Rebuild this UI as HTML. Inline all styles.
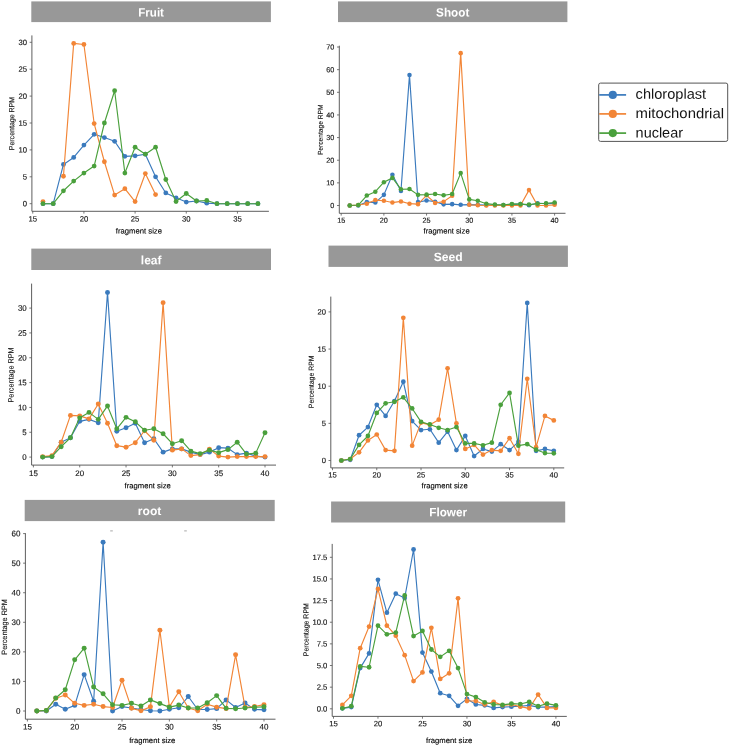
<!DOCTYPE html>
<html><head><meta charset="utf-8"><title>fragment size distribution</title>
<style>html,body{margin:0;padding:0;background:#fff}body{width:729px;height:746px;position:relative;overflow:hidden;font-family:"Liberation Sans",sans-serif}</style>
</head><body>
<svg width="729" height="746" viewBox="0 0 729 746" style="will-change:transform;filter:blur(0.3px);display:block;position:absolute;left:0;top:0;font-family:'Liberation Sans',sans-serif">
<rect x="0" y="0" width="729" height="746" fill="#fff"/>
<rect x="31.3" y="1.4" width="239.6" height="20.7" fill="#989898"/>
<text x="151.1" y="16.5" transform="rotate(0.03 151.1 16.5)" text-anchor="middle" font-size="12" font-weight="bold" fill="#fff" textLength="25.7" lengthAdjust="spacingAndGlyphs">Fruit</text>
<polyline fill="none" stroke="#3a7abd" stroke-width="1.15" stroke-linejoin="round" points="42.98,203.7 53.22,203.7 63.45,164.43 73.69,157.43 83.92,145.06 94.16,134.3 104.39,137.53 114.63,141.29 124.86,156.36 135.1,155.82 145.33,154.2 155.57,176.8 165.81,192.94 176.04,197.78 186.27,202.09 196.51,201.01 206.75,203.16 216.98,203.7 227.21,203.7 237.45,203.7 247.69,203.7 257.92,203.7"/>
<g fill="#3a7abd"><circle cx="42.98" cy="203.7" r="2.4"/><circle cx="53.22" cy="203.7" r="2.4"/><circle cx="63.45" cy="164.43" r="2.4"/><circle cx="73.69" cy="157.43" r="2.4"/><circle cx="83.92" cy="145.06" r="2.4"/><circle cx="94.16" cy="134.3" r="2.4"/><circle cx="104.39" cy="137.53" r="2.4"/><circle cx="114.63" cy="141.29" r="2.4"/><circle cx="124.86" cy="156.36" r="2.4"/><circle cx="135.1" cy="155.82" r="2.4"/><circle cx="145.33" cy="154.2" r="2.4"/><circle cx="155.57" cy="176.8" r="2.4"/><circle cx="165.81" cy="192.94" r="2.4"/><circle cx="176.04" cy="197.78" r="2.4"/><circle cx="186.27" cy="202.09" r="2.4"/><circle cx="196.51" cy="201.01" r="2.4"/><circle cx="206.75" cy="203.16" r="2.4"/><circle cx="216.98" cy="203.7" r="2.4"/><circle cx="227.21" cy="203.7" r="2.4"/><circle cx="237.45" cy="203.7" r="2.4"/><circle cx="247.69" cy="203.7" r="2.4"/><circle cx="257.92" cy="203.7" r="2.4"/></g>
<polyline fill="none" stroke="#f28536" stroke-width="1.15" stroke-linejoin="round" points="63.45,176.26 73.69,43.38 83.92,44.45 94.16,123.54 104.39,161.74 114.63,195.09 124.86,188.64 135.1,201.55 145.33,173.57 155.57,194.55"/>
<g fill="#f28536"><circle cx="42.98" cy="201.55" r="2.4"/><circle cx="63.45" cy="176.26" r="2.4"/><circle cx="73.69" cy="43.38" r="2.4"/><circle cx="83.92" cy="44.45" r="2.4"/><circle cx="94.16" cy="123.54" r="2.4"/><circle cx="104.39" cy="161.74" r="2.4"/><circle cx="114.63" cy="195.09" r="2.4"/><circle cx="124.86" cy="188.64" r="2.4"/><circle cx="135.1" cy="201.55" r="2.4"/><circle cx="145.33" cy="173.57" r="2.4"/><circle cx="155.57" cy="194.55" r="2.4"/></g>
<polyline fill="none" stroke="#4aa03c" stroke-width="1.15" stroke-linejoin="round" points="42.98,203.7 53.22,203.7 63.45,190.79 73.69,181.1 83.92,173.03 94.16,166.04 104.39,123 114.63,90.72 124.86,173.03 135.1,147.21 145.33,154.2 155.57,147.21 165.81,179.49 176.04,201.55 186.27,193.48 196.51,201.01 206.75,200.47 216.98,203.7 227.21,203.7 237.45,203.7 247.69,203.7 257.92,203.7"/>
<g fill="#4aa03c"><circle cx="42.98" cy="203.7" r="2.4"/><circle cx="53.22" cy="203.7" r="2.4"/><circle cx="63.45" cy="190.79" r="2.4"/><circle cx="73.69" cy="181.1" r="2.4"/><circle cx="83.92" cy="173.03" r="2.4"/><circle cx="94.16" cy="166.04" r="2.4"/><circle cx="104.39" cy="123" r="2.4"/><circle cx="114.63" cy="90.72" r="2.4"/><circle cx="124.86" cy="173.03" r="2.4"/><circle cx="135.1" cy="147.21" r="2.4"/><circle cx="145.33" cy="154.2" r="2.4"/><circle cx="155.57" cy="147.21" r="2.4"/><circle cx="165.81" cy="179.49" r="2.4"/><circle cx="176.04" cy="201.55" r="2.4"/><circle cx="186.27" cy="193.48" r="2.4"/><circle cx="196.51" cy="201.01" r="2.4"/><circle cx="206.75" cy="200.47" r="2.4"/><circle cx="216.98" cy="203.7" r="2.4"/><circle cx="227.21" cy="203.7" r="2.4"/><circle cx="237.45" cy="203.7" r="2.4"/><circle cx="247.69" cy="203.7" r="2.4"/><circle cx="257.92" cy="203.7" r="2.4"/></g>
<path d="M31.9 35.4V211.3H268.9" fill="none" stroke="#555" stroke-width="0.95"/>
<path d="M29.6 203.7H31.9M29.6 176.8H31.9M29.6 149.9H31.9M29.6 123H31.9M29.6 96.1H31.9M29.6 69.2H31.9M29.6 42.3H31.9M32.75 211.3V213.6M83.92 211.3V213.6M135.1 211.3V213.6M186.27 211.3V213.6M237.45 211.3V213.6" stroke="#555" stroke-width="0.8" fill="none"/>
<g font-size="7.7" fill="#141414" stroke="#141414" stroke-width="0.14">
<text x="27" y="206.35" transform="rotate(0.03 27 206.35)" text-anchor="end">0</text>
<text x="27" y="179.45" transform="rotate(0.03 27 179.45)" text-anchor="end">5</text>
<text x="27" y="152.55" transform="rotate(0.03 27 152.55)" text-anchor="end">10</text>
<text x="27" y="125.65" transform="rotate(0.03 27 125.65)" text-anchor="end">15</text>
<text x="27" y="98.75" transform="rotate(0.03 27 98.75)" text-anchor="end">20</text>
<text x="27" y="71.85" transform="rotate(0.03 27 71.85)" text-anchor="end">25</text>
<text x="27" y="44.95" transform="rotate(0.03 27 44.95)" text-anchor="end">30</text>
<text x="32.75" y="221.5" transform="rotate(0.03 32.75 221.5)" text-anchor="middle">15</text>
<text x="83.92" y="221.5" transform="rotate(0.03 83.92 221.5)" text-anchor="middle">20</text>
<text x="135.1" y="221.5" transform="rotate(0.03 135.1 221.5)" text-anchor="middle">25</text>
<text x="186.27" y="221.5" transform="rotate(0.03 186.27 221.5)" text-anchor="middle">30</text>
<text x="237.45" y="221.5" transform="rotate(0.03 237.45 221.5)" text-anchor="middle">35</text>
</g>
<text x="138.9" y="233.4" transform="rotate(0.03 138.9 233.4)" text-anchor="middle" font-size="7.7" fill="#000" stroke="#000" stroke-width="0.12">fragment size</text>
<text transform="translate(14.2 123.6) rotate(-90.03)" text-anchor="middle" font-size="7.4" fill="#141414" stroke="#141414" stroke-width="0.12" textLength="53.4" lengthAdjust="spacingAndGlyphs">Percentage RPM</text>
<rect x="338" y="1.4" width="229.4" height="20.7" fill="#989898"/>
<text x="452.7" y="16.5" transform="rotate(0.03 452.7 16.5)" text-anchor="middle" font-size="12" font-weight="bold" fill="#fff" textLength="33.2" lengthAdjust="spacingAndGlyphs">Shoot</text>
<polyline fill="none" stroke="#3a7abd" stroke-width="1.15" stroke-linejoin="round" points="349.74,205.5 358.27,205.5 366.81,202.1 375.34,202.56 383.88,194.86 392.42,174.71 400.95,191.01 409.49,75.09 418.02,202.1 426.56,200.52 435.1,201.65 443.63,204.37 452.17,204.14 460.7,204.82 469.24,204.59 477.78,204.82 486.31,205.05 494.85,205.05 503.38,205.05 511.92,204.59 520.46,203.92 528.99,205.27 537.53,203.24 546.06,203.69 554.6,203.46"/>
<g fill="#3a7abd"><circle cx="349.74" cy="205.5" r="2.27"/><circle cx="358.27" cy="205.5" r="2.27"/><circle cx="366.81" cy="202.1" r="2.27"/><circle cx="375.34" cy="202.56" r="2.27"/><circle cx="383.88" cy="194.86" r="2.27"/><circle cx="392.42" cy="174.71" r="2.27"/><circle cx="400.95" cy="191.01" r="2.27"/><circle cx="409.49" cy="75.09" r="2.27"/><circle cx="418.02" cy="202.1" r="2.27"/><circle cx="426.56" cy="200.52" r="2.27"/><circle cx="435.1" cy="201.65" r="2.27"/><circle cx="443.63" cy="204.37" r="2.27"/><circle cx="452.17" cy="204.14" r="2.27"/><circle cx="460.7" cy="204.82" r="2.27"/><circle cx="469.24" cy="204.59" r="2.27"/><circle cx="477.78" cy="204.82" r="2.27"/><circle cx="486.31" cy="205.05" r="2.27"/><circle cx="494.85" cy="205.05" r="2.27"/><circle cx="503.38" cy="205.05" r="2.27"/><circle cx="511.92" cy="204.59" r="2.27"/><circle cx="520.46" cy="203.92" r="2.27"/><circle cx="528.99" cy="205.27" r="2.27"/><circle cx="537.53" cy="203.24" r="2.27"/><circle cx="546.06" cy="203.69" r="2.27"/><circle cx="554.6" cy="203.46" r="2.27"/></g>
<polyline fill="none" stroke="#f28536" stroke-width="1.15" stroke-linejoin="round" points="349.74,205.5 358.27,205.05 366.81,203.69 375.34,200.07 383.88,200.75 392.42,202.56 400.95,201.42 409.49,203.69 418.02,204.14 426.56,195.31 435.1,203.01 443.63,201.65 452.17,195.76 460.7,53.13 469.24,204.82 477.78,205.27 486.31,205.5 494.85,205.5 503.38,205.5 511.92,205.5 520.46,205.5 528.99,190.1 537.53,205.5 546.06,205.5 554.6,204.82"/>
<g fill="#f28536"><circle cx="349.74" cy="205.5" r="2.27"/><circle cx="358.27" cy="205.05" r="2.27"/><circle cx="366.81" cy="203.69" r="2.27"/><circle cx="375.34" cy="200.07" r="2.27"/><circle cx="383.88" cy="200.75" r="2.27"/><circle cx="392.42" cy="202.56" r="2.27"/><circle cx="400.95" cy="201.42" r="2.27"/><circle cx="409.49" cy="203.69" r="2.27"/><circle cx="418.02" cy="204.14" r="2.27"/><circle cx="426.56" cy="195.31" r="2.27"/><circle cx="435.1" cy="203.01" r="2.27"/><circle cx="443.63" cy="201.65" r="2.27"/><circle cx="452.17" cy="195.76" r="2.27"/><circle cx="460.7" cy="53.13" r="2.27"/><circle cx="469.24" cy="204.82" r="2.27"/><circle cx="477.78" cy="205.27" r="2.27"/><circle cx="486.31" cy="205.5" r="2.27"/><circle cx="494.85" cy="205.5" r="2.27"/><circle cx="503.38" cy="205.5" r="2.27"/><circle cx="511.92" cy="205.5" r="2.27"/><circle cx="520.46" cy="205.5" r="2.27"/><circle cx="528.99" cy="190.1" r="2.27"/><circle cx="537.53" cy="205.5" r="2.27"/><circle cx="546.06" cy="205.5" r="2.27"/><circle cx="554.6" cy="204.82" r="2.27"/></g>
<polyline fill="none" stroke="#4aa03c" stroke-width="1.15" stroke-linejoin="round" points="349.74,205.5 358.27,205.05 366.81,195.54 375.34,191.69 383.88,182.18 392.42,177.88 400.95,189.2 409.49,188.97 418.02,194.86 426.56,194.63 435.1,193.95 443.63,195.31 452.17,193.95 460.7,173.12 469.24,199.39 477.78,200.75 486.31,203.69 494.85,204.59 503.38,205.05 511.92,203.92 520.46,204.14 528.99,204.59 537.53,203.69 546.06,203.24 554.6,202.56"/>
<g fill="#4aa03c"><circle cx="349.74" cy="205.5" r="2.27"/><circle cx="358.27" cy="205.05" r="2.27"/><circle cx="366.81" cy="195.54" r="2.27"/><circle cx="375.34" cy="191.69" r="2.27"/><circle cx="383.88" cy="182.18" r="2.27"/><circle cx="392.42" cy="177.88" r="2.27"/><circle cx="400.95" cy="189.2" r="2.27"/><circle cx="409.49" cy="188.97" r="2.27"/><circle cx="418.02" cy="194.86" r="2.27"/><circle cx="426.56" cy="194.63" r="2.27"/><circle cx="435.1" cy="193.95" r="2.27"/><circle cx="443.63" cy="195.31" r="2.27"/><circle cx="452.17" cy="193.95" r="2.27"/><circle cx="460.7" cy="173.12" r="2.27"/><circle cx="469.24" cy="199.39" r="2.27"/><circle cx="477.78" cy="200.75" r="2.27"/><circle cx="486.31" cy="203.69" r="2.27"/><circle cx="494.85" cy="204.59" r="2.27"/><circle cx="503.38" cy="205.05" r="2.27"/><circle cx="511.92" cy="203.92" r="2.27"/><circle cx="520.46" cy="204.14" r="2.27"/><circle cx="528.99" cy="204.59" r="2.27"/><circle cx="537.53" cy="203.69" r="2.27"/><circle cx="546.06" cy="203.24" r="2.27"/><circle cx="554.6" cy="202.56" r="2.27"/></g>
<path d="M339.3 45.7V213.3H565.5" fill="none" stroke="#555" stroke-width="0.95"/>
<path d="M337 205.5H339.3M337 182.86H339.3M337 160.22H339.3M337 137.58H339.3M337 114.94H339.3M337 92.3H339.3M337 69.66H339.3M337 47.02H339.3M341.2 213.3V215.6M383.88 213.3V215.6M426.56 213.3V215.6M469.24 213.3V215.6M511.92 213.3V215.6M554.6 213.3V215.6" stroke="#555" stroke-width="0.8" fill="none"/>
<g font-size="7.28" fill="#141414" stroke="#141414" stroke-width="0.14">
<text x="334.4" y="208.01" transform="rotate(0.03 334.4 208.01)" text-anchor="end">0</text>
<text x="334.4" y="185.37" transform="rotate(0.03 334.4 185.37)" text-anchor="end">10</text>
<text x="334.4" y="162.73" transform="rotate(0.03 334.4 162.73)" text-anchor="end">20</text>
<text x="334.4" y="140.09" transform="rotate(0.03 334.4 140.09)" text-anchor="end">30</text>
<text x="334.4" y="117.45" transform="rotate(0.03 334.4 117.45)" text-anchor="end">40</text>
<text x="334.4" y="94.81" transform="rotate(0.03 334.4 94.81)" text-anchor="end">50</text>
<text x="334.4" y="72.17" transform="rotate(0.03 334.4 72.17)" text-anchor="end">60</text>
<text x="334.4" y="49.53" transform="rotate(0.03 334.4 49.53)" text-anchor="end">70</text>
<text x="341.2" y="222.8" transform="rotate(0.03 341.2 222.8)" text-anchor="middle">15</text>
<text x="383.88" y="222.8" transform="rotate(0.03 383.88 222.8)" text-anchor="middle">20</text>
<text x="426.56" y="222.8" transform="rotate(0.03 426.56 222.8)" text-anchor="middle">25</text>
<text x="469.24" y="222.8" transform="rotate(0.03 469.24 222.8)" text-anchor="middle">30</text>
<text x="511.92" y="222.8" transform="rotate(0.03 511.92 222.8)" text-anchor="middle">35</text>
<text x="554.6" y="222.8" transform="rotate(0.03 554.6 222.8)" text-anchor="middle">40</text>
</g>
<text x="446.6" y="233.4" transform="rotate(0.03 446.6 233.4)" text-anchor="middle" font-size="7.7" fill="#000" stroke="#000" stroke-width="0.12">fragment size</text>
<text transform="translate(322.7 129.8) rotate(-90.03)" text-anchor="middle" font-size="7" fill="#141414" stroke="#141414" stroke-width="0.12" textLength="50.5" lengthAdjust="spacingAndGlyphs">Percentage RPM</text>
<rect x="31.3" y="248.6" width="239.7" height="21.4" fill="#989898"/>
<text x="151.2" y="264.3" transform="rotate(0.03 151.2 264.3)" text-anchor="middle" font-size="12" font-weight="bold" fill="#fff" textLength="20.8" lengthAdjust="spacingAndGlyphs">leaf</text>
<polyline fill="none" stroke="#3a7abd" stroke-width="1.15" stroke-linejoin="round" points="42.66,457.1 51.93,456.6 61.19,442.2 70.46,437.73 79.72,421.34 88.98,419.35 98.25,422.83 107.51,292.44 116.78,431.27 126.04,427.79 135.3,423.32 144.57,442.7 153.83,438.72 163.1,452.13 172.36,448.9 181.62,448.9 190.89,452.13 200.15,454.62 209.42,452.13 218.68,447.66 227.94,448.16 237.21,454.62 246.47,453.13 255.74,456.11 265,457.1"/>
<g fill="#3a7abd"><circle cx="42.66" cy="457.1" r="2.47"/><circle cx="51.93" cy="456.6" r="2.47"/><circle cx="61.19" cy="442.2" r="2.47"/><circle cx="70.46" cy="437.73" r="2.47"/><circle cx="79.72" cy="421.34" r="2.47"/><circle cx="88.98" cy="419.35" r="2.47"/><circle cx="98.25" cy="422.83" r="2.47"/><circle cx="107.51" cy="292.44" r="2.47"/><circle cx="116.78" cy="431.27" r="2.47"/><circle cx="126.04" cy="427.79" r="2.47"/><circle cx="135.3" cy="423.32" r="2.47"/><circle cx="144.57" cy="442.7" r="2.47"/><circle cx="153.83" cy="438.72" r="2.47"/><circle cx="163.1" cy="452.13" r="2.47"/><circle cx="172.36" cy="448.9" r="2.47"/><circle cx="181.62" cy="448.9" r="2.47"/><circle cx="190.89" cy="452.13" r="2.47"/><circle cx="200.15" cy="454.62" r="2.47"/><circle cx="209.42" cy="452.13" r="2.47"/><circle cx="218.68" cy="447.66" r="2.47"/><circle cx="227.94" cy="448.16" r="2.47"/><circle cx="237.21" cy="454.62" r="2.47"/><circle cx="246.47" cy="453.13" r="2.47"/><circle cx="255.74" cy="456.11" r="2.47"/><circle cx="265" cy="457.1" r="2.47"/></g>
<polyline fill="none" stroke="#f28536" stroke-width="1.15" stroke-linejoin="round" points="42.66,456.6 51.93,455.61 61.19,442.2 70.46,415.38 79.72,415.87 88.98,418.85 98.25,403.95 107.51,423.32 116.78,445.68 126.04,447.17 135.3,442.7 144.57,430.77 153.83,440.21 163.1,302.63 172.36,450.15 181.62,448.9 190.89,455.61 200.15,454.62 209.42,449.15 218.68,456.11 227.94,457.1 237.21,456.6 246.47,456.6 255.74,456.6 265,456.6"/>
<g fill="#f28536"><circle cx="42.66" cy="456.6" r="2.47"/><circle cx="51.93" cy="455.61" r="2.47"/><circle cx="61.19" cy="442.2" r="2.47"/><circle cx="70.46" cy="415.38" r="2.47"/><circle cx="79.72" cy="415.87" r="2.47"/><circle cx="88.98" cy="418.85" r="2.47"/><circle cx="98.25" cy="403.95" r="2.47"/><circle cx="107.51" cy="423.32" r="2.47"/><circle cx="116.78" cy="445.68" r="2.47"/><circle cx="126.04" cy="447.17" r="2.47"/><circle cx="135.3" cy="442.7" r="2.47"/><circle cx="144.57" cy="430.77" r="2.47"/><circle cx="153.83" cy="440.21" r="2.47"/><circle cx="163.1" cy="302.63" r="2.47"/><circle cx="172.36" cy="450.15" r="2.47"/><circle cx="181.62" cy="448.9" r="2.47"/><circle cx="190.89" cy="455.61" r="2.47"/><circle cx="200.15" cy="454.62" r="2.47"/><circle cx="209.42" cy="449.15" r="2.47"/><circle cx="218.68" cy="456.11" r="2.47"/><circle cx="227.94" cy="457.1" r="2.47"/><circle cx="237.21" cy="456.6" r="2.47"/><circle cx="246.47" cy="456.6" r="2.47"/><circle cx="255.74" cy="456.6" r="2.47"/><circle cx="265" cy="456.6" r="2.47"/></g>
<polyline fill="none" stroke="#4aa03c" stroke-width="1.15" stroke-linejoin="round" points="42.66,457.1 51.93,456.6 61.19,446.67 70.46,437.73 79.72,417.86 88.98,412.4 98.25,419.35 107.51,405.94 116.78,428.79 126.04,417.36 135.3,421.83 144.57,430.28 153.83,428.79 163.1,433.76 172.36,443.69 181.62,440.71 190.89,451.14 200.15,453.62 209.42,450.15 218.68,452.63 227.94,449.65 237.21,442.2 246.47,454.12 255.74,453.13 265,432.76"/>
<g fill="#4aa03c"><circle cx="42.66" cy="457.1" r="2.47"/><circle cx="51.93" cy="456.6" r="2.47"/><circle cx="61.19" cy="446.67" r="2.47"/><circle cx="70.46" cy="437.73" r="2.47"/><circle cx="79.72" cy="417.86" r="2.47"/><circle cx="88.98" cy="412.4" r="2.47"/><circle cx="98.25" cy="419.35" r="2.47"/><circle cx="107.51" cy="405.94" r="2.47"/><circle cx="116.78" cy="428.79" r="2.47"/><circle cx="126.04" cy="417.36" r="2.47"/><circle cx="135.3" cy="421.83" r="2.47"/><circle cx="144.57" cy="430.28" r="2.47"/><circle cx="153.83" cy="428.79" r="2.47"/><circle cx="163.1" cy="433.76" r="2.47"/><circle cx="172.36" cy="443.69" r="2.47"/><circle cx="181.62" cy="440.71" r="2.47"/><circle cx="190.89" cy="451.14" r="2.47"/><circle cx="200.15" cy="453.62" r="2.47"/><circle cx="209.42" cy="450.15" r="2.47"/><circle cx="218.68" cy="452.63" r="2.47"/><circle cx="227.94" cy="449.65" r="2.47"/><circle cx="237.21" cy="442.2" r="2.47"/><circle cx="246.47" cy="454.12" r="2.47"/><circle cx="255.74" cy="453.13" r="2.47"/><circle cx="265" cy="432.76" r="2.47"/></g>
<path d="M31.6 283.6V465.1H276" fill="none" stroke="#555" stroke-width="0.95"/>
<path d="M29.3 457.1H31.6M29.3 432.27H31.6M29.3 407.43H31.6M29.3 382.6H31.6M29.3 357.76H31.6M29.3 332.93H31.6M29.3 308.09H31.6M33.4 465.1V467.4M79.72 465.1V467.4M126.04 465.1V467.4M172.36 465.1V467.4M218.68 465.1V467.4M265 465.1V467.4" stroke="#555" stroke-width="0.8" fill="none"/>
<g font-size="7.92" fill="#141414" stroke="#141414" stroke-width="0.14">
<text x="26.7" y="459.82" transform="rotate(0.03 26.7 459.82)" text-anchor="end">0</text>
<text x="26.7" y="434.99" transform="rotate(0.03 26.7 434.99)" text-anchor="end">5</text>
<text x="26.7" y="410.15" transform="rotate(0.03 26.7 410.15)" text-anchor="end">10</text>
<text x="26.7" y="385.32" transform="rotate(0.03 26.7 385.32)" text-anchor="end">15</text>
<text x="26.7" y="360.48" transform="rotate(0.03 26.7 360.48)" text-anchor="end">20</text>
<text x="26.7" y="335.65" transform="rotate(0.03 26.7 335.65)" text-anchor="end">25</text>
<text x="26.7" y="310.81" transform="rotate(0.03 26.7 310.81)" text-anchor="end">30</text>
<text x="33.4" y="475.9" transform="rotate(0.03 33.4 475.9)" text-anchor="middle">15</text>
<text x="79.72" y="475.9" transform="rotate(0.03 79.72 475.9)" text-anchor="middle">20</text>
<text x="126.04" y="475.9" transform="rotate(0.03 126.04 475.9)" text-anchor="middle">25</text>
<text x="172.36" y="475.9" transform="rotate(0.03 172.36 475.9)" text-anchor="middle">30</text>
<text x="218.68" y="475.9" transform="rotate(0.03 218.68 475.9)" text-anchor="middle">35</text>
<text x="265" y="475.9" transform="rotate(0.03 265 475.9)" text-anchor="middle">40</text>
</g>
<text x="147.7" y="488.3" transform="rotate(0.03 147.7 488.3)" text-anchor="middle" font-size="7.7" fill="#000" stroke="#000" stroke-width="0.12">fragment size</text>
<text transform="translate(13.6 375) rotate(-90.03)" text-anchor="middle" font-size="7.61" fill="#141414" stroke="#141414" stroke-width="0.12" textLength="54.9" lengthAdjust="spacingAndGlyphs">Percentage RPM</text>
<rect x="328.5" y="245.6" width="239.4" height="21.3" fill="#989898"/>
<text x="448.2" y="261" transform="rotate(0.03 448.2 261)" text-anchor="middle" font-size="12" font-weight="bold" fill="#fff" textLength="29.0" lengthAdjust="spacingAndGlyphs">Seed</text>
<polyline fill="none" stroke="#3a7abd" stroke-width="1.15" stroke-linejoin="round" points="341.35,460.5 350.2,459.76 359.06,435.24 367.91,427.06 376.76,404.77 385.61,415.92 394.46,401.06 403.32,381.74 412.17,421.12 421.02,430.04 429.87,429.29 438.72,442.67 447.58,431.52 456.43,450.1 465.28,435.98 474.13,456.04 482.98,448.98 491.84,451.58 500.69,444.15 509.54,450.1 518.39,441.93 527.24,302.98 536.1,450.84 544.95,448.98 553.8,450.84"/>
<g fill="#3a7abd"><circle cx="341.35" cy="460.5" r="2.37"/><circle cx="350.2" cy="459.76" r="2.37"/><circle cx="359.06" cy="435.24" r="2.37"/><circle cx="367.91" cy="427.06" r="2.37"/><circle cx="376.76" cy="404.77" r="2.37"/><circle cx="385.61" cy="415.92" r="2.37"/><circle cx="394.46" cy="401.06" r="2.37"/><circle cx="403.32" cy="381.74" r="2.37"/><circle cx="412.17" cy="421.12" r="2.37"/><circle cx="421.02" cy="430.04" r="2.37"/><circle cx="429.87" cy="429.29" r="2.37"/><circle cx="438.72" cy="442.67" r="2.37"/><circle cx="447.58" cy="431.52" r="2.37"/><circle cx="456.43" cy="450.1" r="2.37"/><circle cx="465.28" cy="435.98" r="2.37"/><circle cx="474.13" cy="456.04" r="2.37"/><circle cx="482.98" cy="448.98" r="2.37"/><circle cx="491.84" cy="451.58" r="2.37"/><circle cx="500.69" cy="444.15" r="2.37"/><circle cx="509.54" cy="450.1" r="2.37"/><circle cx="518.39" cy="441.93" r="2.37"/><circle cx="527.24" cy="302.98" r="2.37"/><circle cx="536.1" cy="450.84" r="2.37"/><circle cx="544.95" cy="448.98" r="2.37"/><circle cx="553.8" cy="450.84" r="2.37"/></g>
<polyline fill="none" stroke="#f28536" stroke-width="1.15" stroke-linejoin="round" points="341.35,460.5 350.2,459.01 359.06,452.33 367.91,440.44 376.76,434.5 385.61,450.1 394.46,450.84 403.32,317.84 412.17,445.64 421.02,422.61 429.87,424.84 438.72,419.63 447.58,368.37 456.43,423.35 465.28,448.98 474.13,444.9 482.98,454.56 491.84,450.1 500.69,450.84 509.54,438.21 518.39,453.81 527.24,378.77 536.1,447.13 544.95,415.92 553.8,420.38"/>
<g fill="#f28536"><circle cx="341.35" cy="460.5" r="2.37"/><circle cx="350.2" cy="459.01" r="2.37"/><circle cx="359.06" cy="452.33" r="2.37"/><circle cx="367.91" cy="440.44" r="2.37"/><circle cx="376.76" cy="434.5" r="2.37"/><circle cx="385.61" cy="450.1" r="2.37"/><circle cx="394.46" cy="450.84" r="2.37"/><circle cx="403.32" cy="317.84" r="2.37"/><circle cx="412.17" cy="445.64" r="2.37"/><circle cx="421.02" cy="422.61" r="2.37"/><circle cx="429.87" cy="424.84" r="2.37"/><circle cx="438.72" cy="419.63" r="2.37"/><circle cx="447.58" cy="368.37" r="2.37"/><circle cx="456.43" cy="423.35" r="2.37"/><circle cx="465.28" cy="448.98" r="2.37"/><circle cx="474.13" cy="444.9" r="2.37"/><circle cx="482.98" cy="454.56" r="2.37"/><circle cx="491.84" cy="450.1" r="2.37"/><circle cx="500.69" cy="450.84" r="2.37"/><circle cx="509.54" cy="438.21" r="2.37"/><circle cx="518.39" cy="453.81" r="2.37"/><circle cx="527.24" cy="378.77" r="2.37"/><circle cx="536.1" cy="447.13" r="2.37"/><circle cx="544.95" cy="415.92" r="2.37"/><circle cx="553.8" cy="420.38" r="2.37"/></g>
<polyline fill="none" stroke="#4aa03c" stroke-width="1.15" stroke-linejoin="round" points="341.35,460.5 350.2,459.01 359.06,444.9 367.91,435.98 376.76,412.95 385.61,403.29 394.46,401.8 403.32,397.35 412.17,408.49 421.02,421.86 429.87,424.46 438.72,427.81 447.58,430.04 456.43,427.06 465.28,443.41 474.13,443.41 482.98,445.27 491.84,442.67 500.69,404.77 509.54,392.89 518.39,445.64 527.24,444.15 536.1,449.73 544.95,453.07 553.8,453.29"/>
<g fill="#4aa03c"><circle cx="341.35" cy="460.5" r="2.37"/><circle cx="350.2" cy="459.01" r="2.37"/><circle cx="359.06" cy="444.9" r="2.37"/><circle cx="367.91" cy="435.98" r="2.37"/><circle cx="376.76" cy="412.95" r="2.37"/><circle cx="385.61" cy="403.29" r="2.37"/><circle cx="394.46" cy="401.8" r="2.37"/><circle cx="403.32" cy="397.35" r="2.37"/><circle cx="412.17" cy="408.49" r="2.37"/><circle cx="421.02" cy="421.86" r="2.37"/><circle cx="429.87" cy="424.46" r="2.37"/><circle cx="438.72" cy="427.81" r="2.37"/><circle cx="447.58" cy="430.04" r="2.37"/><circle cx="456.43" cy="427.06" r="2.37"/><circle cx="465.28" cy="443.41" r="2.37"/><circle cx="474.13" cy="443.41" r="2.37"/><circle cx="482.98" cy="445.27" r="2.37"/><circle cx="491.84" cy="442.67" r="2.37"/><circle cx="500.69" cy="404.77" r="2.37"/><circle cx="509.54" cy="392.89" r="2.37"/><circle cx="518.39" cy="445.64" r="2.37"/><circle cx="527.24" cy="444.15" r="2.37"/><circle cx="536.1" cy="449.73" r="2.37"/><circle cx="544.95" cy="453.07" r="2.37"/><circle cx="553.8" cy="453.29" r="2.37"/></g>
<path d="M330.8 296.6V467.9H564.2" fill="none" stroke="#555" stroke-width="0.95"/>
<path d="M328.5 460.5H330.8M328.5 423.35H330.8M328.5 386.2H330.8M328.5 349.05H330.8M328.5 311.9H330.8M332.5 467.9V470.2M376.76 467.9V470.2M421.02 467.9V470.2M465.28 467.9V470.2M509.54 467.9V470.2M553.8 467.9V470.2" stroke="#555" stroke-width="0.8" fill="none"/>
<g font-size="7.6" fill="#141414" stroke="#141414" stroke-width="0.14">
<text x="325.9" y="463.12" transform="rotate(0.03 325.9 463.12)" text-anchor="end">0</text>
<text x="325.9" y="425.97" transform="rotate(0.03 325.9 425.97)" text-anchor="end">5</text>
<text x="325.9" y="388.82" transform="rotate(0.03 325.9 388.82)" text-anchor="end">10</text>
<text x="325.9" y="351.67" transform="rotate(0.03 325.9 351.67)" text-anchor="end">15</text>
<text x="325.9" y="314.52" transform="rotate(0.03 325.9 314.52)" text-anchor="end">20</text>
<text x="332.5" y="477.6" transform="rotate(0.03 332.5 477.6)" text-anchor="middle">15</text>
<text x="376.76" y="477.6" transform="rotate(0.03 376.76 477.6)" text-anchor="middle">20</text>
<text x="421.02" y="477.6" transform="rotate(0.03 421.02 477.6)" text-anchor="middle">25</text>
<text x="465.28" y="477.6" transform="rotate(0.03 465.28 477.6)" text-anchor="middle">30</text>
<text x="509.54" y="477.6" transform="rotate(0.03 509.54 477.6)" text-anchor="middle">35</text>
<text x="553.8" y="477.6" transform="rotate(0.03 553.8 477.6)" text-anchor="middle">40</text>
</g>
<text x="444.6" y="488.3" transform="rotate(0.03 444.6 488.3)" text-anchor="middle" font-size="7.7" fill="#000" stroke="#000" stroke-width="0.12">fragment size</text>
<text transform="translate(313.7 381.8) rotate(-90.03)" text-anchor="middle" font-size="7.3" fill="#141414" stroke="#141414" stroke-width="0.12" textLength="52.7" lengthAdjust="spacingAndGlyphs">Percentage RPM</text>
<rect x="24.7" y="499.9" width="250" height="21.2" fill="#989898"/>
<text x="149.6" y="515.1" transform="rotate(0.03 149.6 515.1)" text-anchor="middle" font-size="12" font-weight="bold" fill="#fff" textLength="23.5" lengthAdjust="spacingAndGlyphs">root</text>
<polyline fill="none" stroke="#3a7abd" stroke-width="1.15" stroke-linejoin="round" points="36.86,711 46.33,711 55.79,704.2 65.26,709.23 74.72,705.38 84.18,674.63 93.65,701.24 103.11,542.16 112.58,711 122.04,706.56 131.5,708.04 140.97,709.52 150.43,710.7 159.9,711 169.36,709.23 178.82,707.75 188.29,696.51 197.75,709.52 207.22,709.52 216.68,708.63 226.14,699.91 235.61,707.45 245.07,703.02 254.54,709.37 264,709.82"/>
<g fill="#3a7abd"><circle cx="36.86" cy="711" r="2.49"/><circle cx="46.33" cy="711" r="2.49"/><circle cx="55.79" cy="704.2" r="2.49"/><circle cx="65.26" cy="709.23" r="2.49"/><circle cx="74.72" cy="705.38" r="2.49"/><circle cx="84.18" cy="674.63" r="2.49"/><circle cx="93.65" cy="701.24" r="2.49"/><circle cx="103.11" cy="542.16" r="2.49"/><circle cx="112.58" cy="711" r="2.49"/><circle cx="122.04" cy="706.56" r="2.49"/><circle cx="131.5" cy="708.04" r="2.49"/><circle cx="140.97" cy="709.52" r="2.49"/><circle cx="150.43" cy="710.7" r="2.49"/><circle cx="159.9" cy="711" r="2.49"/><circle cx="169.36" cy="709.23" r="2.49"/><circle cx="178.82" cy="707.75" r="2.49"/><circle cx="188.29" cy="696.51" r="2.49"/><circle cx="197.75" cy="709.52" r="2.49"/><circle cx="207.22" cy="709.52" r="2.49"/><circle cx="216.68" cy="708.63" r="2.49"/><circle cx="226.14" cy="699.91" r="2.49"/><circle cx="235.61" cy="707.45" r="2.49"/><circle cx="245.07" cy="703.02" r="2.49"/><circle cx="254.54" cy="709.37" r="2.49"/><circle cx="264" cy="709.82" r="2.49"/></g>
<polyline fill="none" stroke="#f28536" stroke-width="1.15" stroke-linejoin="round" points="36.86,711 46.33,710.41 55.79,698.28 65.26,695.03 74.72,703.31 84.18,705.38 93.65,704.2 103.11,706.56 112.58,707.45 122.04,680.25 131.5,708.34 140.97,710.7 150.43,706.86 159.9,630.27 169.36,706.86 178.82,691.78 188.29,708.04 197.75,710.7 207.22,704.2 216.68,707.16 226.14,708.63 235.61,654.82 245.07,707.3 254.54,706.56 264,704.64"/>
<g fill="#f28536"><circle cx="36.86" cy="711" r="2.49"/><circle cx="46.33" cy="710.41" r="2.49"/><circle cx="55.79" cy="698.28" r="2.49"/><circle cx="65.26" cy="695.03" r="2.49"/><circle cx="74.72" cy="703.31" r="2.49"/><circle cx="84.18" cy="705.38" r="2.49"/><circle cx="93.65" cy="704.2" r="2.49"/><circle cx="103.11" cy="706.56" r="2.49"/><circle cx="112.58" cy="707.45" r="2.49"/><circle cx="122.04" cy="680.25" r="2.49"/><circle cx="131.5" cy="708.34" r="2.49"/><circle cx="140.97" cy="710.7" r="2.49"/><circle cx="150.43" cy="706.86" r="2.49"/><circle cx="159.9" cy="630.27" r="2.49"/><circle cx="169.36" cy="706.86" r="2.49"/><circle cx="178.82" cy="691.78" r="2.49"/><circle cx="188.29" cy="708.04" r="2.49"/><circle cx="197.75" cy="710.7" r="2.49"/><circle cx="207.22" cy="704.2" r="2.49"/><circle cx="216.68" cy="707.16" r="2.49"/><circle cx="226.14" cy="708.63" r="2.49"/><circle cx="235.61" cy="654.82" r="2.49"/><circle cx="245.07" cy="707.3" r="2.49"/><circle cx="254.54" cy="706.56" r="2.49"/><circle cx="264" cy="704.64" r="2.49"/></g>
<polyline fill="none" stroke="#4aa03c" stroke-width="1.15" stroke-linejoin="round" points="36.86,711 46.33,710.41 55.79,697.99 65.26,689.71 74.72,659.84 84.18,648.16 93.65,687.05 103.11,693.85 112.58,704.79 122.04,705.38 131.5,703.31 140.97,705.97 150.43,699.91 159.9,703.61 169.36,707.16 178.82,705.09 188.29,708.04 197.75,708.04 207.22,702.72 216.68,695.62 226.14,708.34 235.61,708.78 245.07,708.04 254.54,707.3 264,706.86"/>
<g fill="#4aa03c"><circle cx="36.86" cy="711" r="2.49"/><circle cx="46.33" cy="710.41" r="2.49"/><circle cx="55.79" cy="697.99" r="2.49"/><circle cx="65.26" cy="689.71" r="2.49"/><circle cx="74.72" cy="659.84" r="2.49"/><circle cx="84.18" cy="648.16" r="2.49"/><circle cx="93.65" cy="687.05" r="2.49"/><circle cx="103.11" cy="693.85" r="2.49"/><circle cx="112.58" cy="704.79" r="2.49"/><circle cx="122.04" cy="705.38" r="2.49"/><circle cx="131.5" cy="703.31" r="2.49"/><circle cx="140.97" cy="705.97" r="2.49"/><circle cx="150.43" cy="699.91" r="2.49"/><circle cx="159.9" cy="703.61" r="2.49"/><circle cx="169.36" cy="707.16" r="2.49"/><circle cx="178.82" cy="705.09" r="2.49"/><circle cx="188.29" cy="708.04" r="2.49"/><circle cx="197.75" cy="708.04" r="2.49"/><circle cx="207.22" cy="702.72" r="2.49"/><circle cx="216.68" cy="695.62" r="2.49"/><circle cx="226.14" cy="708.34" r="2.49"/><circle cx="235.61" cy="708.78" r="2.49"/><circle cx="245.07" cy="708.04" r="2.49"/><circle cx="254.54" cy="707.3" r="2.49"/><circle cx="264" cy="706.86" r="2.49"/></g>
<path d="M25.4 533.2V719.2H275.5" fill="none" stroke="#555" stroke-width="0.95"/>
<path d="M23.1 711H25.4M23.1 681.43H25.4M23.1 651.86H25.4M23.1 622.29H25.4M23.1 592.72H25.4M23.1 563.15H25.4M23.1 533.58H25.4M27.4 719.2V721.5M74.72 719.2V721.5M122.04 719.2V721.5M169.36 719.2V721.5M216.68 719.2V721.5M264 719.2V721.5" stroke="#555" stroke-width="0.8" fill="none"/>
<g font-size="8" fill="#141414" stroke="#141414" stroke-width="0.14">
<text x="20.5" y="713.75" transform="rotate(0.03 20.5 713.75)" text-anchor="end">0</text>
<text x="20.5" y="684.18" transform="rotate(0.03 20.5 684.18)" text-anchor="end">10</text>
<text x="20.5" y="654.61" transform="rotate(0.03 20.5 654.61)" text-anchor="end">20</text>
<text x="20.5" y="625.04" transform="rotate(0.03 20.5 625.04)" text-anchor="end">30</text>
<text x="20.5" y="595.47" transform="rotate(0.03 20.5 595.47)" text-anchor="end">40</text>
<text x="20.5" y="565.9" transform="rotate(0.03 20.5 565.9)" text-anchor="end">50</text>
<text x="20.5" y="536.33" transform="rotate(0.03 20.5 536.33)" text-anchor="end">60</text>
<text x="27.4" y="729.6" transform="rotate(0.03 27.4 729.6)" text-anchor="middle">15</text>
<text x="74.72" y="729.6" transform="rotate(0.03 74.72 729.6)" text-anchor="middle">20</text>
<text x="122.04" y="729.6" transform="rotate(0.03 122.04 729.6)" text-anchor="middle">25</text>
<text x="169.36" y="729.6" transform="rotate(0.03 169.36 729.6)" text-anchor="middle">30</text>
<text x="216.68" y="729.6" transform="rotate(0.03 216.68 729.6)" text-anchor="middle">35</text>
<text x="264" y="729.6" transform="rotate(0.03 264 729.6)" text-anchor="middle">40</text>
</g>
<text x="152.3" y="743" transform="rotate(0.03 152.3 743)" text-anchor="middle" font-size="7.7" fill="#000" stroke="#000" stroke-width="0.12">fragment size</text>
<text transform="translate(7 626.9) rotate(-90.03)" text-anchor="middle" font-size="7.69" fill="#141414" stroke="#141414" stroke-width="0.12" textLength="55.5" lengthAdjust="spacingAndGlyphs">Percentage RPM</text>
<rect x="331.1" y="501.5" width="234.1" height="21" fill="#989898"/>
<text x="448.15" y="516.3" transform="rotate(0.03 448.15 516.3)" text-anchor="middle" font-size="12" font-weight="bold" fill="#fff" textLength="37.8" lengthAdjust="spacingAndGlyphs">Flower</text>
<polyline fill="none" stroke="#3a7abd" stroke-width="1.15" stroke-linejoin="round" points="342.4,708.37 351.29,707.07 360.19,668.11 369.08,653.4 377.98,579.81 386.88,612.71 395.77,593.66 404.67,597.99 413.56,549.51 422.46,652.53 431.36,671.57 440.25,693.22 449.15,695.81 458.04,705.77 466.94,698.84 475.84,704.47 484.73,705.34 493.63,707.93 502.52,707.07 511.42,706.64 520.32,706.2 529.21,705.34 538.11,707.07 547,707.07 555.9,706.64"/>
<g fill="#3a7abd"><circle cx="342.4" cy="708.37" r="2.39"/><circle cx="351.29" cy="707.07" r="2.39"/><circle cx="360.19" cy="668.11" r="2.39"/><circle cx="369.08" cy="653.4" r="2.39"/><circle cx="377.98" cy="579.81" r="2.39"/><circle cx="386.88" cy="612.71" r="2.39"/><circle cx="395.77" cy="593.66" r="2.39"/><circle cx="404.67" cy="597.99" r="2.39"/><circle cx="413.56" cy="549.51" r="2.39"/><circle cx="422.46" cy="652.53" r="2.39"/><circle cx="431.36" cy="671.57" r="2.39"/><circle cx="440.25" cy="693.22" r="2.39"/><circle cx="449.15" cy="695.81" r="2.39"/><circle cx="458.04" cy="705.77" r="2.39"/><circle cx="466.94" cy="698.84" r="2.39"/><circle cx="475.84" cy="704.47" r="2.39"/><circle cx="484.73" cy="705.34" r="2.39"/><circle cx="493.63" cy="707.93" r="2.39"/><circle cx="502.52" cy="707.07" r="2.39"/><circle cx="511.42" cy="706.64" r="2.39"/><circle cx="520.32" cy="706.2" r="2.39"/><circle cx="529.21" cy="705.34" r="2.39"/><circle cx="538.11" cy="707.07" r="2.39"/><circle cx="547" cy="707.07" r="2.39"/><circle cx="555.9" cy="706.64" r="2.39"/></g>
<polyline fill="none" stroke="#f28536" stroke-width="1.15" stroke-linejoin="round" points="342.4,704.9 351.29,695.81 360.19,648.2 369.08,626.56 377.98,588.9 386.88,625.69 395.77,635.65 404.67,655.13 413.56,681.1 422.46,672.44 431.36,627.86 440.25,678.93 449.15,673.31 458.04,598.34 466.94,701.01 475.84,701.01 484.73,704.47 493.63,701.87 502.52,705.34 511.42,704.47 520.32,706.64 529.21,708.37 538.11,694.52 547,707.93 555.9,707.93"/>
<g fill="#f28536"><circle cx="342.4" cy="704.9" r="2.39"/><circle cx="351.29" cy="695.81" r="2.39"/><circle cx="360.19" cy="648.2" r="2.39"/><circle cx="369.08" cy="626.56" r="2.39"/><circle cx="377.98" cy="588.9" r="2.39"/><circle cx="386.88" cy="625.69" r="2.39"/><circle cx="395.77" cy="635.65" r="2.39"/><circle cx="404.67" cy="655.13" r="2.39"/><circle cx="413.56" cy="681.1" r="2.39"/><circle cx="422.46" cy="672.44" r="2.39"/><circle cx="431.36" cy="627.86" r="2.39"/><circle cx="440.25" cy="678.93" r="2.39"/><circle cx="449.15" cy="673.31" r="2.39"/><circle cx="458.04" cy="598.34" r="2.39"/><circle cx="466.94" cy="701.01" r="2.39"/><circle cx="475.84" cy="701.01" r="2.39"/><circle cx="484.73" cy="704.47" r="2.39"/><circle cx="493.63" cy="701.87" r="2.39"/><circle cx="502.52" cy="705.34" r="2.39"/><circle cx="511.42" cy="704.47" r="2.39"/><circle cx="520.32" cy="706.64" r="2.39"/><circle cx="529.21" cy="708.37" r="2.39"/><circle cx="538.11" cy="694.52" r="2.39"/><circle cx="547" cy="707.93" r="2.39"/><circle cx="555.9" cy="707.93" r="2.39"/></g>
<polyline fill="none" stroke="#4aa03c" stroke-width="1.15" stroke-linejoin="round" points="342.4,708.37 351.29,706.2 360.19,666.38 369.08,667.25 377.98,625.69 386.88,634.35 395.77,632.62 404.67,595.39 413.56,636.08 422.46,630.89 431.36,649.5 440.25,656.86 449.15,650.8 458.04,668.11 466.94,694.08 475.84,697.11 484.73,702.31 493.63,704.47 502.52,704.9 511.42,703.61 520.32,704.04 529.21,701.87 538.11,706.2 547,703.61 555.9,705.34"/>
<g fill="#4aa03c"><circle cx="342.4" cy="708.37" r="2.39"/><circle cx="351.29" cy="706.2" r="2.39"/><circle cx="360.19" cy="666.38" r="2.39"/><circle cx="369.08" cy="667.25" r="2.39"/><circle cx="377.98" cy="625.69" r="2.39"/><circle cx="386.88" cy="634.35" r="2.39"/><circle cx="395.77" cy="632.62" r="2.39"/><circle cx="404.67" cy="595.39" r="2.39"/><circle cx="413.56" cy="636.08" r="2.39"/><circle cx="422.46" cy="630.89" r="2.39"/><circle cx="431.36" cy="649.5" r="2.39"/><circle cx="440.25" cy="656.86" r="2.39"/><circle cx="449.15" cy="650.8" r="2.39"/><circle cx="458.04" cy="668.11" r="2.39"/><circle cx="466.94" cy="694.08" r="2.39"/><circle cx="475.84" cy="697.11" r="2.39"/><circle cx="484.73" cy="702.31" r="2.39"/><circle cx="493.63" cy="704.47" r="2.39"/><circle cx="502.52" cy="704.9" r="2.39"/><circle cx="511.42" cy="703.61" r="2.39"/><circle cx="520.32" cy="704.04" r="2.39"/><circle cx="529.21" cy="701.87" r="2.39"/><circle cx="538.11" cy="706.2" r="2.39"/><circle cx="547" cy="703.61" r="2.39"/><circle cx="555.9" cy="705.34" r="2.39"/></g>
<path d="M332.2 543.9V716.4H566.8" fill="none" stroke="#555" stroke-width="0.95"/>
<path d="M329.9 708.8H332.2M329.9 687.16H332.2M329.9 665.51H332.2M329.9 643.87H332.2M329.9 622.23H332.2M329.9 600.59H332.2M329.9 578.94H332.2M329.9 557.3H332.2M333.5 716.4V718.7M377.98 716.4V718.7M422.46 716.4V718.7M466.94 716.4V718.7M511.42 716.4V718.7M555.9 716.4V718.7" stroke="#555" stroke-width="0.8" fill="none"/>
<g font-size="7.66" fill="#141414" stroke="#141414" stroke-width="0.14">
<text x="327.3" y="711.44" transform="rotate(0.03 327.3 711.44)" text-anchor="end">0.0</text>
<text x="327.3" y="689.79" transform="rotate(0.03 327.3 689.79)" text-anchor="end">2.5</text>
<text x="327.3" y="668.15" transform="rotate(0.03 327.3 668.15)" text-anchor="end">5.0</text>
<text x="327.3" y="646.51" transform="rotate(0.03 327.3 646.51)" text-anchor="end">7.5</text>
<text x="327.3" y="624.87" transform="rotate(0.03 327.3 624.87)" text-anchor="end">10.0</text>
<text x="327.3" y="603.22" transform="rotate(0.03 327.3 603.22)" text-anchor="end">12.5</text>
<text x="327.3" y="581.58" transform="rotate(0.03 327.3 581.58)" text-anchor="end">15.0</text>
<text x="327.3" y="559.94" transform="rotate(0.03 327.3 559.94)" text-anchor="end">17.5</text>
<text x="333.5" y="726.2" transform="rotate(0.03 333.5 726.2)" text-anchor="middle">15</text>
<text x="377.98" y="726.2" transform="rotate(0.03 377.98 726.2)" text-anchor="middle">20</text>
<text x="422.46" y="726.2" transform="rotate(0.03 422.46 726.2)" text-anchor="middle">25</text>
<text x="466.94" y="726.2" transform="rotate(0.03 466.94 726.2)" text-anchor="middle">30</text>
<text x="511.42" y="726.2" transform="rotate(0.03 511.42 726.2)" text-anchor="middle">35</text>
<text x="555.9" y="726.2" transform="rotate(0.03 555.9 726.2)" text-anchor="middle">40</text>
</g>
<text x="449.2" y="743" transform="rotate(0.03 449.2 743)" text-anchor="middle" font-size="7.7" fill="#000" stroke="#000" stroke-width="0.12">fragment size</text>
<text transform="translate(308.6 629.7) rotate(-90.03)" text-anchor="middle" font-size="7.36" fill="#141414" stroke="#141414" stroke-width="0.12" textLength="53.1" lengthAdjust="spacingAndGlyphs">Percentage RPM</text>
<rect x="110.2" y="530.4" width="2.6" height="1" fill="#a8a8a8"/><rect x="184.2" y="530.4" width="2.6" height="1" fill="#a8a8a8"/>
<rect x="598.7" y="83.1" width="129" height="58.3" rx="1.8" fill="#fff" stroke="#555" stroke-width="1"/>
<path d="M599.2 94.9H626.1" stroke="#3a7abd" stroke-width="1.7" fill="none"/>
<circle cx="612.8" cy="94.9" r="4.1" fill="#3a7abd"/>
<text x="635.6" y="98.8" transform="rotate(0.03 635.6 98.8)" font-size="14.2" fill="#141414" textLength="70.5" lengthAdjust="spacingAndGlyphs">chloroplast</text>
<path d="M599.2 113.9H626.1" stroke="#f28536" stroke-width="1.7" fill="none"/>
<circle cx="612.8" cy="113.9" r="4.1" fill="#f28536"/>
<text x="635.6" y="118.1" transform="rotate(0.03 635.6 118.1)" font-size="14.2" fill="#141414" textLength="88.4" lengthAdjust="spacingAndGlyphs">mitochondrial</text>
<path d="M599.2 133.1H626.1" stroke="#4aa03c" stroke-width="1.7" fill="none"/>
<circle cx="612.8" cy="133.1" r="4.1" fill="#4aa03c"/>
<text x="635.6" y="137.4" transform="rotate(0.03 635.6 137.4)" font-size="14.2" fill="#141414" textLength="47.4" lengthAdjust="spacingAndGlyphs">nuclear</text>
</svg>
</body></html>
